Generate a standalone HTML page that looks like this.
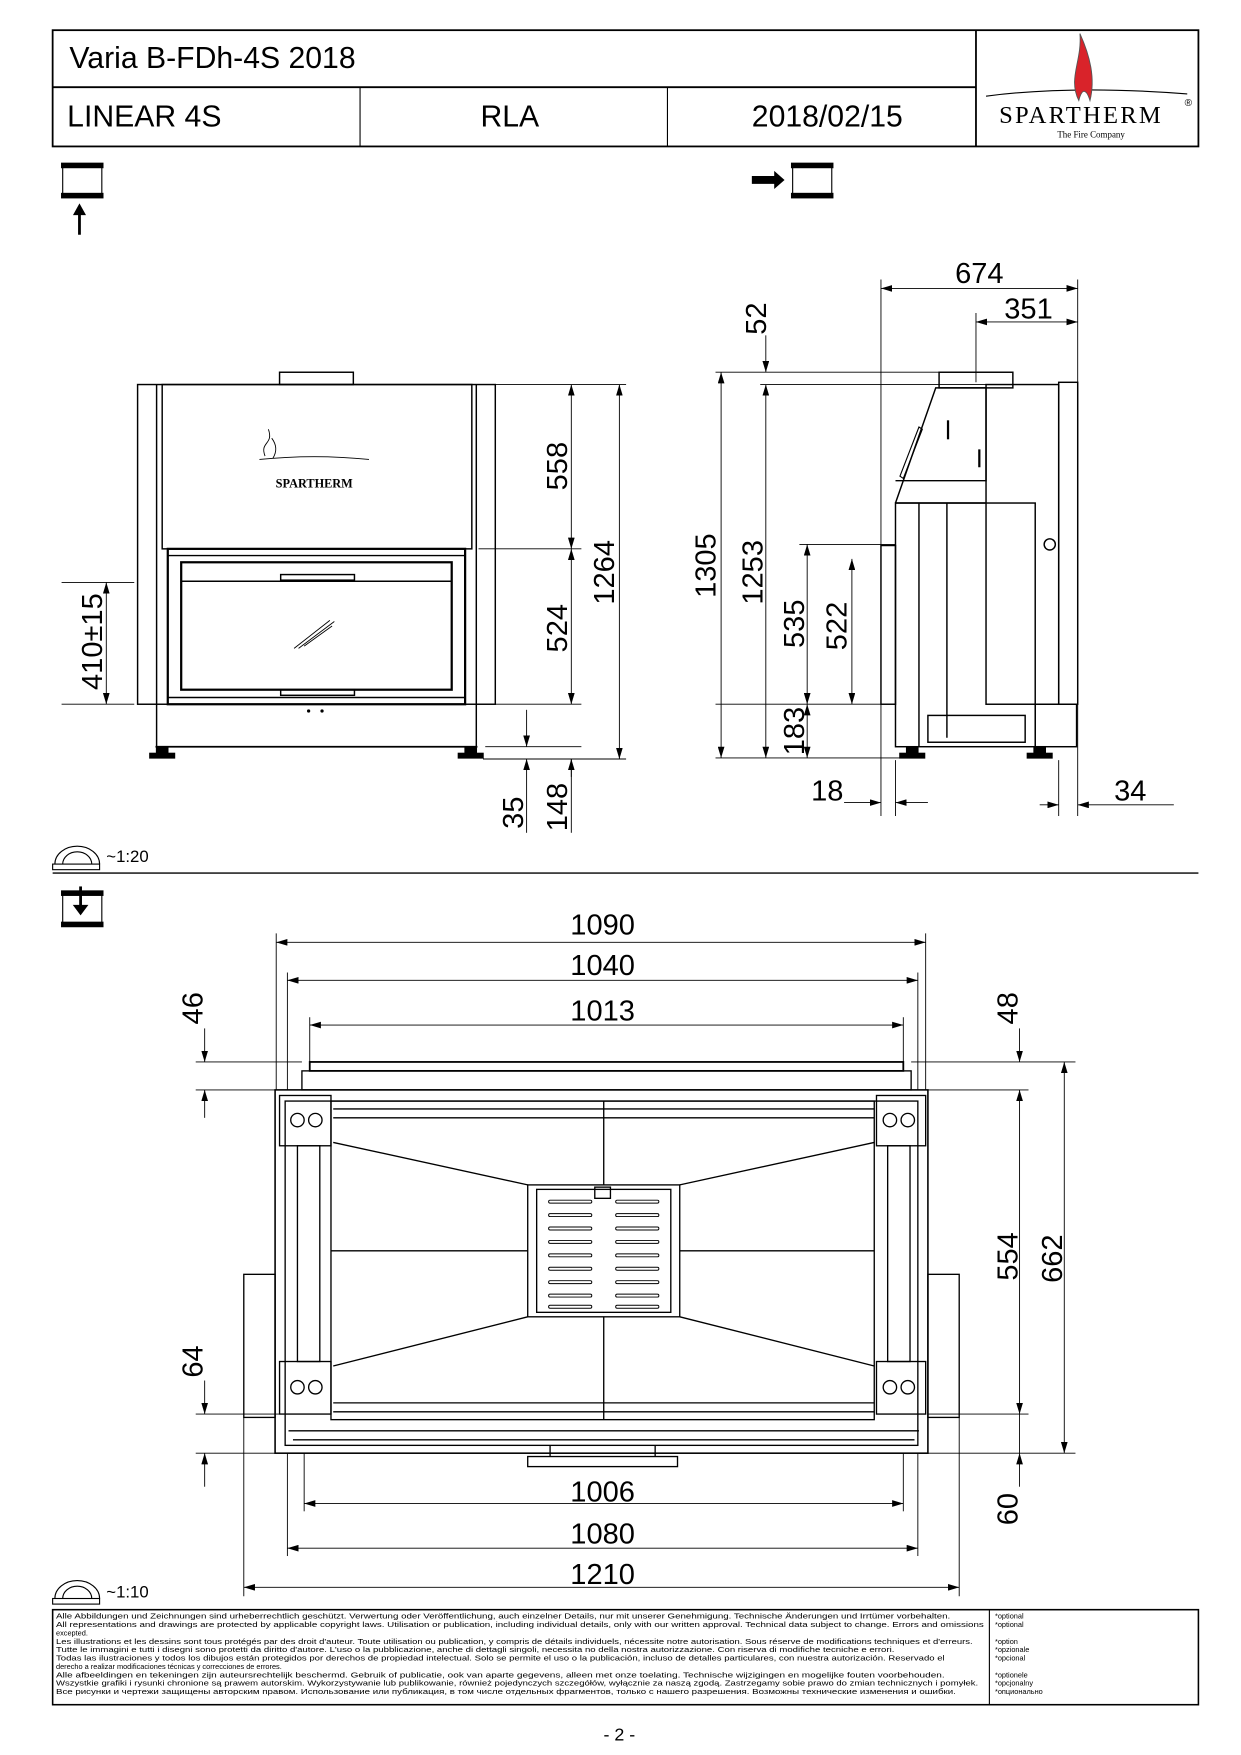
<!DOCTYPE html>
<html><head><meta charset="utf-8"><style>
html,body{margin:0;padding:0;background:#fff}
svg{display:block}
text{font-family:"Liberation Sans",sans-serif;fill:#000}
</style></head><body>
<svg width="1241" height="1755" viewBox="0 0 1110 1570" xmlns="http://www.w3.org/2000/svg">
<defs>
<marker id="a" viewBox="0 0 10 6" refX="10" refY="3" markerWidth="10" markerHeight="6" orient="auto-start-reverse" markerUnits="userSpaceOnUse"><path d="M0,0L10,3L0,6z" fill="#000"/></marker>
</defs>
<g fill="none" stroke="#000">
<!-- header -->
<rect x="47" y="27" width="1025" height="104" stroke-width="1.6"/>
<line x1="47" y1="78" x2="873" y2="78" stroke-width="1.6"/>
<line x1="873" y1="27" x2="873" y2="131" stroke-width="1.6"/>
<line x1="322" y1="78" x2="322" y2="131"/>
<line x1="597" y1="78" x2="597" y2="131"/>
<path d="M882,86 Q960,76 1062,84" stroke-width="1"/>
<path d="M965,90 C955,70 968,55 966,30 C975,50 980,70 975,90 C972,80 968,78 965,90z" fill="#d9232a" stroke="#555" stroke-width="0.8"/>
<!-- view icons -->
<rect x="56" y="148" width="35" height="27"/>
<rect x="55" y="146" width="37" height="4" fill="#000"/>
<rect x="55" y="173" width="37" height="4" fill="#000"/>
<line x1="71" y1="210" x2="71" y2="190" stroke-width="2.5"/>
<path d="M66,192L71,183L76,192z" fill="#000"/>
<rect x="709" y="148" width="35" height="27"/>
<rect x="708" y="146" width="37" height="4" fill="#000"/>
<rect x="708" y="173" width="37" height="4" fill="#000"/>
<path d="M673,158h20v-4l8,7l-8,7v-4h-20z" fill="#000"/>

<!-- FRONT VIEW -->
<g stroke-width="1.3">
<rect x="123" y="344" width="320" height="286"/>
<rect x="250" y="333" width="66" height="11"/>
<rect x="145" y="344" width="277" height="147"/>
<line x1="140" y1="344" x2="140" y2="668"/><line x1="426" y1="344" x2="426" y2="668"/>
<rect x="150" y="491" width="266" height="139" stroke-width="2"/>
<rect x="162" y="503" width="242" height="114" stroke-width="2"/>
<line x1="150" y1="497" x2="416" y2="497"/>
<line x1="150" y1="624" x2="416" y2="624"/>
<line x1="162" y1="520" x2="404" y2="520"/>
<rect x="251" y="514" width="66" height="5"/>
<rect x="251" y="617" width="66" height="5"/>
<line x1="263" y1="580" x2="295" y2="555" stroke-width="0.8"/><line x1="267" y1="580" x2="299" y2="556" stroke-width="0.8"/><line x1="272" y1="578" x2="297" y2="560" stroke-width="0.8"/>
<line x1="139" y1="668" x2="427" y2="668" stroke-width="1.6"/>
<rect x="140" y="668" width="10" height="6" fill="#000"/><rect x="134" y="674" width="22" height="4" fill="#000"/>
<rect x="416" y="668" width="10" height="6" fill="#000"/><rect x="410" y="674" width="22" height="4" fill="#000"/>
<circle cx="276" cy="636" r="0.8" fill="#000"/><circle cx="288" cy="636" r="0.8" fill="#000"/>
<path d="M237,408 C232,395 245,398 240,384 M244,410 C249,402 246,396 243,392" stroke-width="0.8"/>
<path d="M232,411 Q281,406 330,411" stroke-width="0.8"/>
</g>
<!-- front dims -->
<g stroke-width="0.8">
<line x1="443" y1="344" x2="560" y2="344"/><line x1="428" y1="491" x2="520" y2="491"/>
<line x1="443" y1="630" x2="520" y2="630"/><line x1="434" y1="668" x2="520" y2="668"/>
<line x1="432" y1="679" x2="560" y2="679"/>
<line x1="511" y1="344" x2="511" y2="491" marker-start="url(#a)" marker-end="url(#a)"/>
<line x1="511" y1="491" x2="511" y2="630" marker-start="url(#a)" marker-end="url(#a)"/>
<line x1="511" y1="679" x2="511" y2="745"/><line x1="511" y1="695" x2="511" y2="679" marker-end="url(#a)"/>
<line x1="554" y1="344" x2="554" y2="679" marker-start="url(#a)" marker-end="url(#a)"/>
<line x1="471" y1="635" x2="471" y2="668" marker-end="url(#a)"/><line x1="471" y1="745" x2="471" y2="679" marker-end="url(#a)"/>
<line x1="55" y1="521" x2="120" y2="521"/><line x1="55" y1="630" x2="120" y2="630"/>
<line x1="95" y1="521" x2="95" y2="630" marker-start="url(#a)" marker-end="url(#a)"/>
</g>

<!-- SIDE VIEW -->
<g stroke-width="1.3">
<rect x="840" y="333" width="66" height="14"/>
<path d="M801,450 L837,347 L882,347 L882,430 L801,430"/>
<rect x="882" y="344" width="65" height="286"/>
<rect x="947" y="342" width="17" height="288"/>
<rect x="801" y="450" width="125" height="218"/>
<line x1="822" y1="450" x2="822" y2="668"/><line x1="847" y1="450" x2="847" y2="660"/>
<line x1="801" y1="450" x2="882" y2="450"/>
<rect x="788" y="488" width="13" height="142"/>
<rect x="830" y="640" width="87" height="24"/>
<rect x="926" y="630" width="37" height="38"/>
<rect x="811" y="668" width="10" height="6" fill="#000"/><rect x="805" y="674" width="22" height="4" fill="#000"/>
<rect x="925" y="668" width="10" height="6" fill="#000"/><rect x="919" y="674" width="22" height="4" fill="#000"/>
<path d="M805,426 L822,382 L825,384 L808,428z" stroke-width="1"/>
<line x1="876" y1="402" x2="876" y2="418" stroke-width="2"/>
<line x1="848" y1="376" x2="848" y2="393" stroke-width="2"/>
<circle cx="939" cy="487" r="5"/>
</g>
<g stroke-width="0.8">
<line x1="788" y1="250" x2="788" y2="730"/><line x1="964" y1="250" x2="964" y2="730"/><line x1="873" y1="280" x2="873" y2="342"/>
<line x1="801" y1="680" x2="801" y2="730"/><line x1="947" y1="680" x2="947" y2="730"/>
<line x1="788" y1="258" x2="964" y2="258" marker-start="url(#a)" marker-end="url(#a)"/>
<line x1="873" y1="288" x2="964" y2="288" marker-start="url(#a)" marker-end="url(#a)"/>
<line x1="640" y1="333" x2="840" y2="333"/><line x1="680" y1="344" x2="882" y2="344"/>
<line x1="715" y1="487" x2="801" y2="487"/><line x1="640" y1="630" x2="788" y2="630"/>
<line x1="640" y1="678" x2="810" y2="678"/>
<line x1="645" y1="333" x2="645" y2="678" marker-start="url(#a)" marker-end="url(#a)"/>
<line x1="685" y1="300" x2="685" y2="333" marker-end="url(#a)"/><line x1="685" y1="344" x2="685" y2="678" marker-start="url(#a)" marker-end="url(#a)"/>
<line x1="722" y1="487" x2="722" y2="630" marker-start="url(#a)" marker-end="url(#a)"/>
<line x1="722" y1="630" x2="722" y2="678" marker-start="url(#a)" marker-end="url(#a)"/>
<line x1="762" y1="500" x2="762" y2="630" marker-start="url(#a)" marker-end="url(#a)"/>
<line x1="755" y1="718" x2="788" y2="718" marker-end="url(#a)"/><line x1="830" y1="718" x2="801" y2="718" marker-end="url(#a)"/>
<line x1="930" y1="720" x2="947" y2="720" marker-end="url(#a)"/><line x1="1050" y1="720" x2="964" y2="720" marker-end="url(#a)"/>
</g>

<!-- scale icons and separator -->
<path d="M49,773 A20,16 0 0 1 89,773" stroke-width="1"/><path d="M56,773 A13,11 0 0 1 82,773" stroke-width="1"/>
<rect x="47" y="773" width="42" height="5" stroke-width="1"/>
<line x1="47" y1="781" x2="1072" y2="781" stroke-width="1.2"/>
<rect x="56" y="799" width="35" height="27"/>
<rect x="55" y="797" width="37" height="4" fill="#000"/><rect x="55" y="825" width="37" height="4" fill="#000"/>
<line x1="72" y1="793" x2="72" y2="813" stroke-width="2.5"/><path d="M66,810L72,818L78,810z" fill="#000"/>
<path d="M49,1430 A20,16 0 0 1 89,1430" stroke-width="1"/><path d="M56,1430 A13,11 0 0 1 82,1430" stroke-width="1"/>
<rect x="47" y="1430" width="42" height="5" stroke-width="1"/>

<!-- TOP VIEW -->
<g stroke-width="1.2">
<rect x="277" y="950" width="531" height="8" stroke-width="1.6"/>
<rect x="270" y="958" width="545" height="17"/>
<rect x="246" y="975" width="584" height="325" stroke-width="1.4"/>
<rect x="255" y="985" width="566" height="308"/>
<rect x="296" y="985" width="486" height="285"/>
<rect x="250" y="980" width="46" height="45"/><rect x="250" y="1218" width="46" height="47"/>
<rect x="784" y="980" width="44" height="45"/><rect x="784" y="1218" width="44" height="47"/>
<circle cx="266" cy="1002" r="6"/><circle cx="282" cy="1002" r="6"/><circle cx="266" cy="1241" r="6"/><circle cx="282" cy="1241" r="6"/>
<circle cx="796" cy="1002" r="6"/><circle cx="812" cy="1002" r="6"/><circle cx="796" cy="1241" r="6"/><circle cx="812" cy="1241" r="6"/>
<rect x="266" y="1025" width="20" height="193"/><rect x="794" y="1025" width="20" height="193"/>
<line x1="298" y1="1022" x2="472" y2="1060"/><line x1="782" y1="1022" x2="608" y2="1060"/>
<line x1="298" y1="1222" x2="472" y2="1178"/><line x1="782" y1="1222" x2="608" y2="1178"/>
<line x1="298" y1="992" x2="782" y2="992"/><line x1="298" y1="1000" x2="782" y2="1000"/>
<line x1="298" y1="1255" x2="782" y2="1255"/><line x1="298" y1="1263" x2="782" y2="1263"/>
<line x1="540" y1="985" x2="540" y2="1060"/><line x1="540" y1="1178" x2="540" y2="1270"/>
<line x1="296" y1="1119" x2="472" y2="1119"/><line x1="608" y1="1119" x2="782" y2="1119"/>
<rect x="472" y="1060" width="136" height="118"/>
<rect x="480" y="1064" width="120" height="110"/>
<rect x="532" y="1062" width="14" height="10"/>
<rect x="218" y="1140" width="28" height="128"/><rect x="830" y="1140" width="28" height="128"/>
<line x1="258" y1="1280" x2="822" y2="1280"/><line x1="262" y1="1288" x2="818" y2="1288"/>
<rect x="472" y="1303" width="134" height="9"/>
<line x1="492" y1="1293" x2="492" y2="1303"/><line x1="586" y1="1293" x2="586" y2="1303"/>
</g>
<g stroke-width="1">
<path d="M492,1075h36M552,1075h36M492,1087h36M552,1087h36M492,1099h36M552,1099h36M492,1111h36M552,1111h36M492,1123h36M552,1123h36M492,1135h36M552,1135h36M492,1147h36M552,1147h36M492,1159h36M552,1159h36M492,1169h36M552,1169h36" stroke-width="3.5" stroke-linecap="round"/>
<path d="M492,1075h36M552,1075h36M492,1087h36M552,1087h36M492,1099h36M552,1099h36M492,1111h36M552,1111h36M492,1123h36M552,1123h36M492,1135h36M552,1135h36M492,1147h36M552,1147h36M492,1159h36M552,1159h36M492,1169h36M552,1169h36" stroke="#fff" stroke-width="1.8" stroke-linecap="round"/>
</g>
<!-- top view dims -->
<g stroke-width="0.8">
<line x1="247" y1="835" x2="247" y2="975"/><line x1="828" y1="835" x2="828" y2="975"/>
<line x1="257" y1="870" x2="257" y2="975"/><line x1="821" y1="870" x2="821" y2="975"/>
<line x1="277" y1="910" x2="277" y2="950"/><line x1="808" y1="910" x2="808" y2="950"/>
<line x1="247" y1="843" x2="828" y2="843" marker-start="url(#a)" marker-end="url(#a)"/>
<line x1="257" y1="877" x2="821" y2="877" marker-start="url(#a)" marker-end="url(#a)"/>
<line x1="277" y1="917" x2="808" y2="917" marker-start="url(#a)" marker-end="url(#a)"/>
<line x1="175" y1="950" x2="270" y2="950"/><line x1="175" y1="975" x2="246" y2="975"/>
<line x1="183" y1="920" x2="183" y2="950" marker-end="url(#a)"/><line x1="183" y1="1000" x2="183" y2="975" marker-end="url(#a)"/>
<line x1="815" y1="950" x2="962" y2="950"/><line x1="830" y1="975" x2="920" y2="975"/>
<line x1="912" y1="920" x2="912" y2="950" marker-end="url(#a)"/><line x1="912" y1="975" x2="912" y2="1265" marker-start="url(#a)" marker-end="url(#a)"/>
<line x1="830" y1="1265" x2="920" y2="1265"/><line x1="822" y1="1300" x2="962" y2="1300"/>
<line x1="952" y1="950" x2="952" y2="1300" marker-start="url(#a)" marker-end="url(#a)"/>
<line x1="912" y1="1265" x2="912" y2="1300"/><line x1="912" y1="1330" x2="912" y2="1300" marker-end="url(#a)"/>
<line x1="175" y1="1265" x2="250" y2="1265"/><line x1="175" y1="1300" x2="246" y2="1300"/>
<line x1="183" y1="1235" x2="183" y2="1265" marker-end="url(#a)"/><line x1="183" y1="1330" x2="183" y2="1300" marker-end="url(#a)"/>
<line x1="272" y1="1300" x2="272" y2="1352"/><line x1="808" y1="1300" x2="808" y2="1352"/>
<line x1="257" y1="1300" x2="257" y2="1392"/><line x1="821" y1="1300" x2="821" y2="1392"/>
<line x1="218" y1="1268" x2="218" y2="1428"/><line x1="858" y1="1268" x2="858" y2="1428"/>
<line x1="272" y1="1345" x2="808" y2="1345" marker-start="url(#a)" marker-end="url(#a)"/>
<line x1="257" y1="1385" x2="821" y2="1385" marker-start="url(#a)" marker-end="url(#a)"/>
<line x1="218" y1="1420" x2="858" y2="1420" marker-start="url(#a)" marker-end="url(#a)"/>
</g>

<!-- footer -->
<rect x="47" y="1440" width="1025" height="85" stroke-width="1.4"/>
<line x1="885" y1="1440" x2="885" y2="1525"/>
</g>

<!-- TEXT -->
<text x="62" y="61" font-size="27">Varia B-FDh-4S 2018</text>
<text x="60" y="113" font-size="27">LINEAR 4S</text>
<text x="456" y="113" font-size="27" text-anchor="middle">RLA</text>
<text x="740" y="113" font-size="27" text-anchor="middle">2018/02/15</text>
<text x="967" y="110" font-size="22" text-anchor="middle" letter-spacing="2" style="font-family:'Liberation Serif',serif">SPARTHERM</text>
<text x="1063" y="95" font-size="9" text-anchor="middle">®</text>
<text x="976" y="123" font-size="8" text-anchor="middle" style="font-family:'Liberation Serif',serif">The Fire Company</text>
<text x="281" y="436" font-size="11" text-anchor="middle" font-weight="bold" style="font-family:'Liberation Serif',serif">SPARTHERM</text>

<g font-size="26" text-anchor="middle">
<text transform="translate(507,417) rotate(-90)">558</text>
<text transform="translate(507,562) rotate(-90)">524</text>
<text transform="translate(549,512) rotate(-90)">1264</text>
<text transform="translate(468,727) rotate(-90)">35</text>
<text transform="translate(507,722) rotate(-90)">148</text>
<text transform="translate(91,574) rotate(-90)">410±15</text>
<text x="876" y="253">674</text>
<text x="920" y="285">351</text>
<text transform="translate(685,285) rotate(-90)">52</text>
<text transform="translate(640,506) rotate(-90)">1305</text>
<text transform="translate(682,512) rotate(-90)">1253</text>
<text transform="translate(719,558) rotate(-90)">535</text>
<text transform="translate(757,560) rotate(-90)">522</text>
<text transform="translate(719,654) rotate(-90)">183</text>
<text x="740" y="716">18</text>
<text x="1011" y="716">34</text>
<text x="539" y="836">1090</text>
<text x="539" y="872">1040</text>
<text x="539" y="913">1013</text>
<text transform="translate(181,902) rotate(-90)">46</text>
<text transform="translate(910,902) rotate(-90)">48</text>
<text transform="translate(910,1124) rotate(-90)">554</text>
<text transform="translate(950,1126) rotate(-90)">662</text>
<text transform="translate(181,1218) rotate(-90)">64</text>
<text transform="translate(910,1350) rotate(-90)">60</text>
<text x="539" y="1343">1006</text>
<text x="539" y="1381">1080</text>
<text x="539" y="1417">1210</text>
</g>
<text x="95" y="771" font-size="15">~1:20</text>
<text x="95" y="1429" font-size="15">~1:10</text>

<g font-size="6.6" style="font-family:'Liberation Sans Narrow','Liberation Sans',sans-serif">
<text x="50" y="1448" textLength="800" lengthAdjust="spacingAndGlyphs">Alle Abbildungen und Zeichnungen sind urheberrechtlich geschützt. Verwertung oder Veröffentlichung, auch einzelner Details, nur mit unserer Genehmigung. Technische Änderungen und Irrtümer vorbehalten.</text>
<text x="50" y="1455.5" textLength="830" lengthAdjust="spacingAndGlyphs">All representations and drawings are protected by applicable copyright laws. Utilisation or publication, including individual details, only with our written approval. Technical data subject to change. Errors and omissions</text>
<text x="50" y="1463">excepted.</text>
<text x="50" y="1470.5" textLength="820" lengthAdjust="spacingAndGlyphs">Les illustrations et les dessins sont tous protégés par des droit d'auteur. Toute utilisation ou publication, y compris de détails individuels, nécessite notre autorisation. Sous réserve de modifications techniques et d'erreurs.</text>
<text x="50" y="1478" textLength="750" lengthAdjust="spacingAndGlyphs">Tutte le immagini e tutti i disegni sono protetti da diritto d'autore. L'uso o la pubblicazione, anche di dettagli singoli, necessita no della nostra autorizzazione. Con riserva di modifiche tecniche e errori.</text>
<text x="50" y="1485.5" textLength="795" lengthAdjust="spacingAndGlyphs">Todas las ilustraciones y todos los dibujos están protegidos por derechos de propiedad intelectual. Solo se permite el uso o la publicación, incluso de detalles particulares, con nuestra autorización. Reservado el</text>
<text x="50" y="1493">derecho a realizar modificaciones técnicas y correcciones de errores.</text>
<text x="50" y="1500.5" textLength="795" lengthAdjust="spacingAndGlyphs">Alle afbeeldingen en tekeningen zijn auteursrechtelijk beschermd. Gebruik of publicatie, ook van aparte gegevens, alleen met onze toelating. Technische wijzigingen en mogelijke fouten voorbehouden.</text>
<text x="50" y="1508" textLength="825" lengthAdjust="spacingAndGlyphs">Wszystkie grafiki i rysunki chronione są prawem autorskim. Wykorzystywanie lub publikowanie, również pojedynczych szczegółów, wyłącznie za naszą zgodą. Zastrzegamy sobie prawo do zmian technicznych i pomyłek.</text>
<text x="50" y="1515.5" textLength="805" lengthAdjust="spacingAndGlyphs">Все рисунки и чертежи защищены авторским правом. Использование или публикация, в том числе отдельных фрагментов, только с нашего разрешения. Возможны технические изменения и ошибки.</text>
<text x="890" y="1448">*optional</text>
<text x="890" y="1455.5">*optional</text>
<text x="890" y="1470.5">*option</text>
<text x="890" y="1478">*opzionale</text>
<text x="890" y="1485.5">*opcional</text>
<text x="890" y="1500.5">*optionele</text>
<text x="890" y="1508">*opcjonalny</text>
<text x="890" y="1515.5">*опционально</text>
</g>
<text x="554" y="1557" font-size="16" text-anchor="middle">- 2 -</text>
</svg>
</body></html>
